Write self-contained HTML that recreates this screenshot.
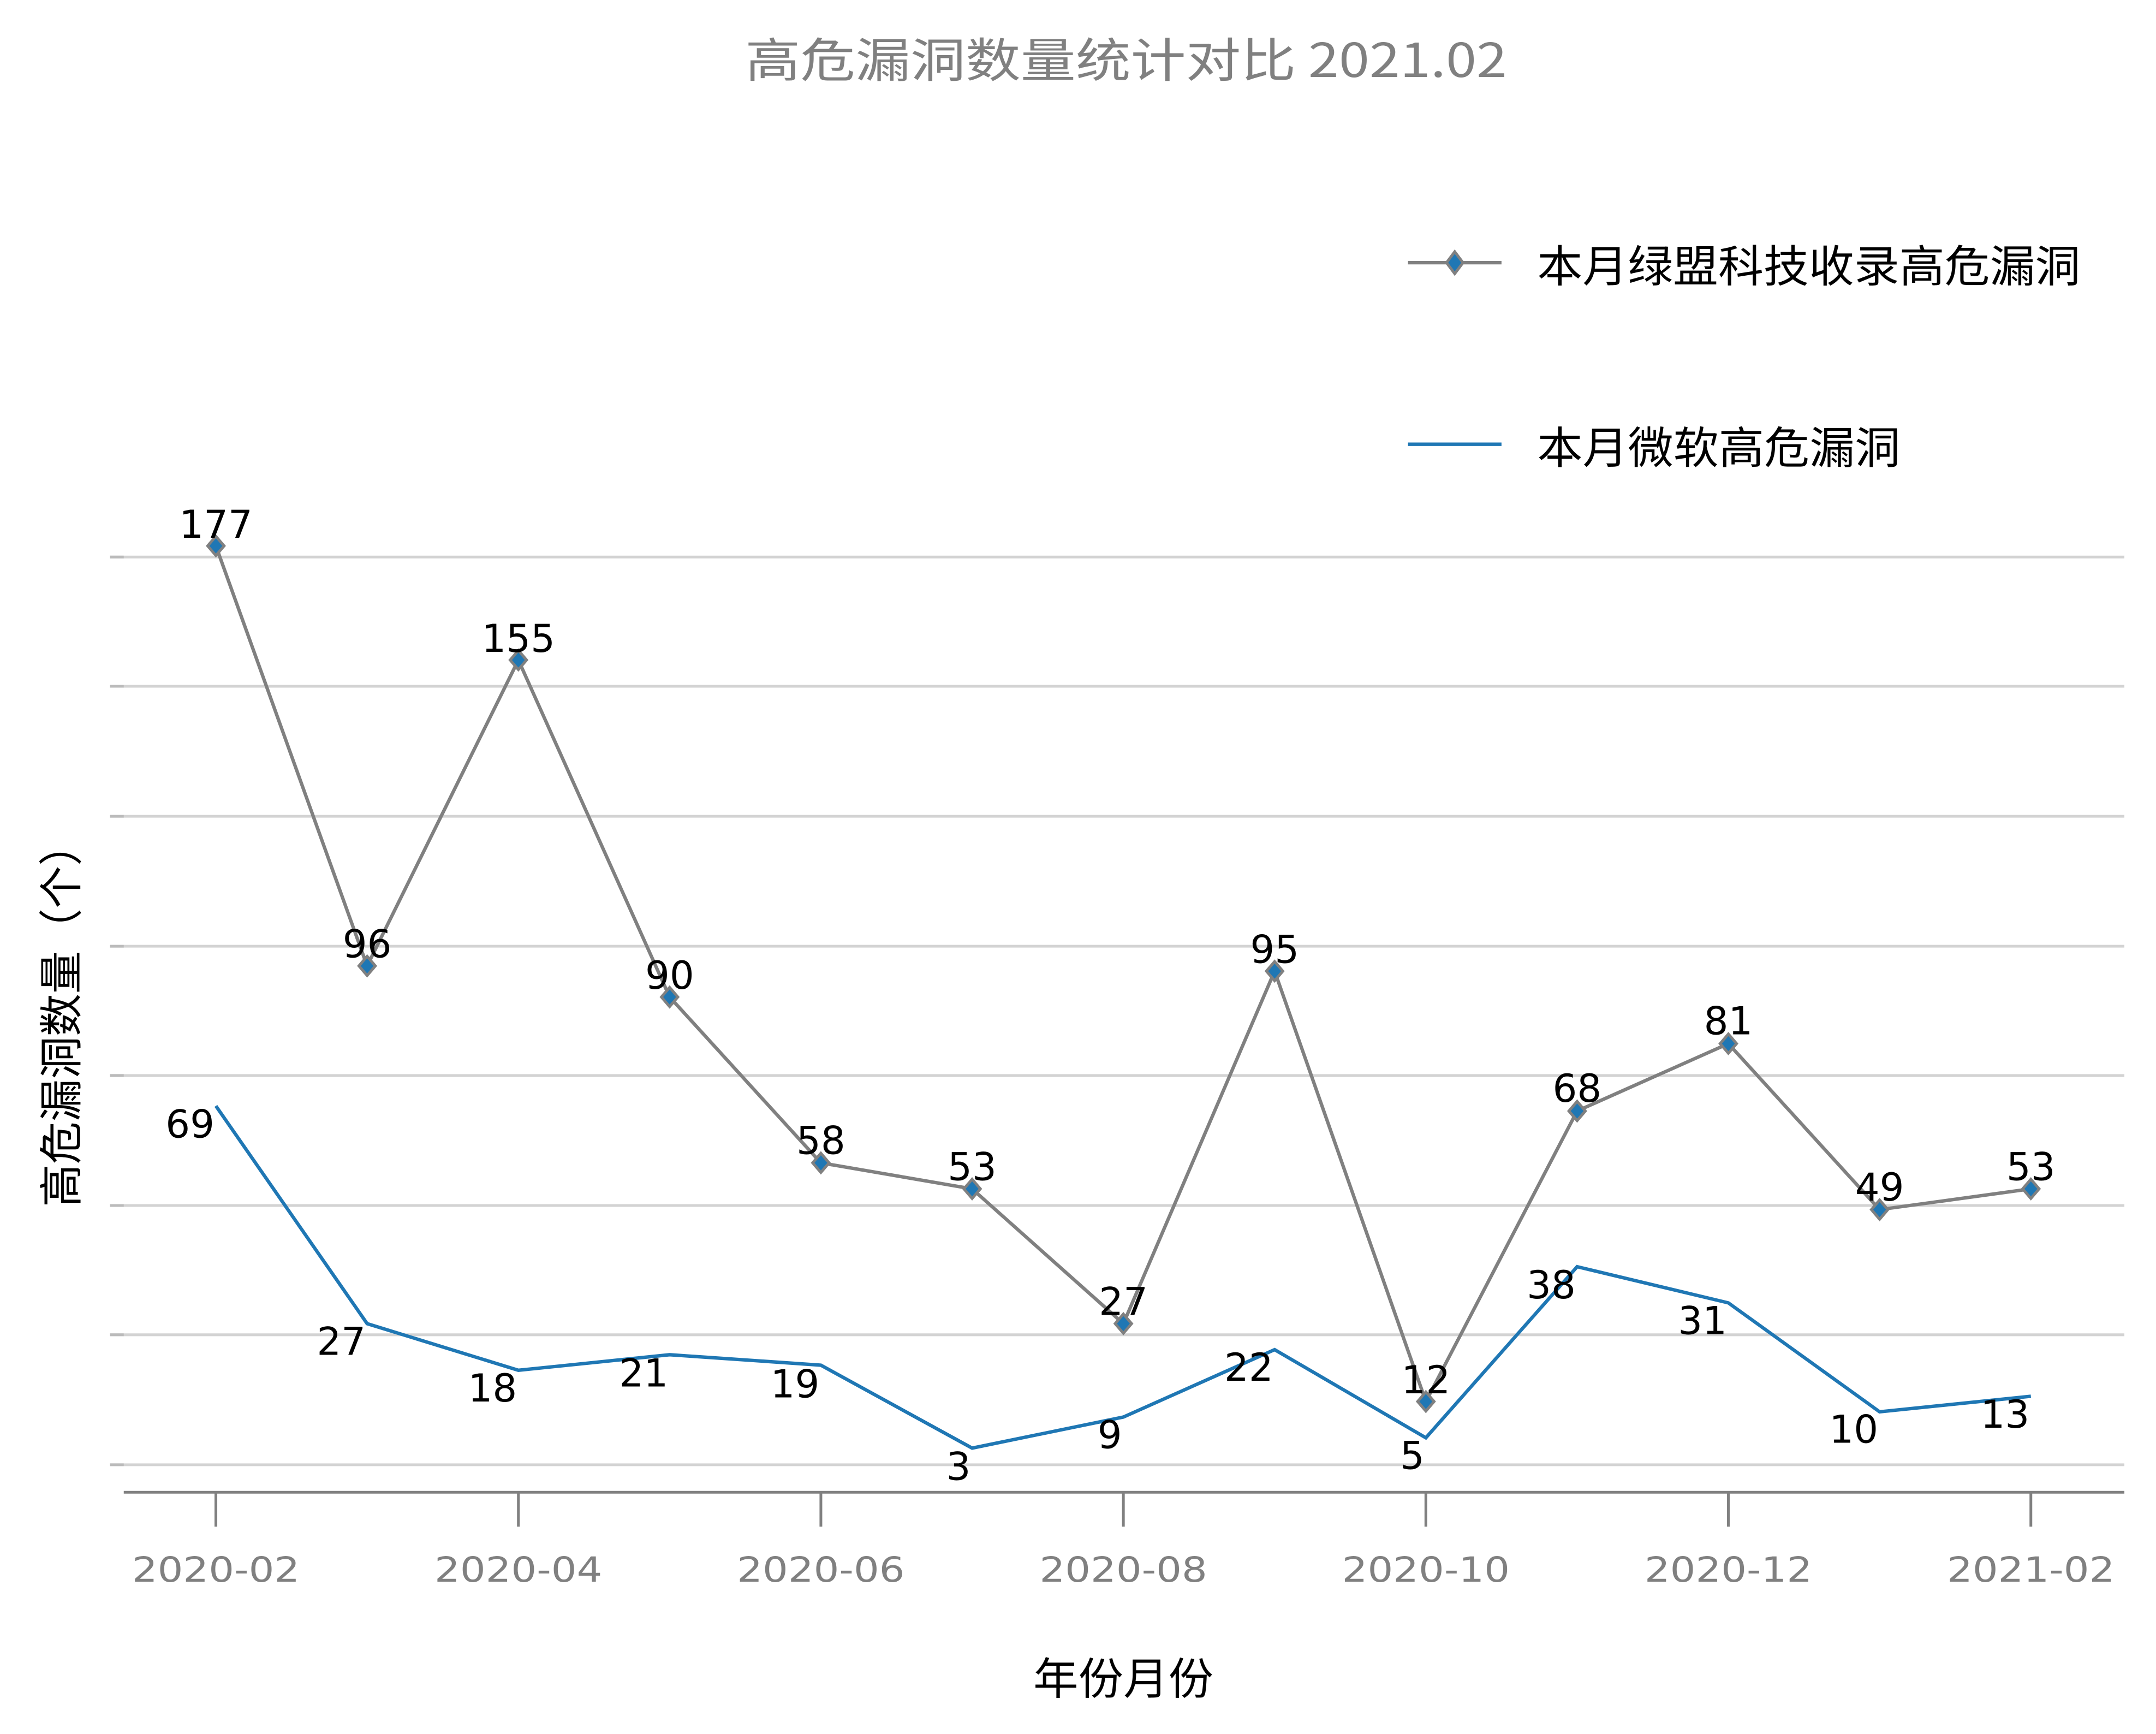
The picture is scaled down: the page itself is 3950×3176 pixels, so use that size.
<!DOCTYPE html>
<html><head><meta charset="utf-8"><style>html,body{margin:0;padding:0;background:#fff}svg{display:block}</style></head>
<body>
<svg width="3950" height="3176" viewBox="0 0 1568 1260.76" xmlns="http://www.w3.org/2000/svg">
<rect width="1568" height="1261" fill="#fff"/>
<text x="819" y="56" text-anchor="middle" font-family="'WenQuanYi Zen Hei','Noto Sans CJK SC',sans-serif" font-size="34" fill="#808080" textLength="554" lengthAdjust="spacingAndGlyphs">高危漏洞数量统计对比 2021.02</text>
<g stroke="#d3d3d3" stroke-width="2">
<line x1="80" x2="1545" y1="405" y2="405"/><line x1="80" x2="1545" y1="499" y2="499"/>
<line x1="80" x2="1545" y1="593.5" y2="593.5"/><line x1="80" x2="1545" y1="688" y2="688"/>
<line x1="80" x2="1545" y1="782" y2="782"/><line x1="80" x2="1545" y1="876.5" y2="876.5"/>
<line x1="80" x2="1545" y1="970.5" y2="970.5"/><line x1="80" x2="1545" y1="1065" y2="1065"/>
</g>
<g stroke="#bbb" stroke-width="2">
<line x1="80" x2="90" y1="405" y2="405"/><line x1="80" x2="90" y1="499" y2="499"/><line x1="80" x2="90" y1="593.5" y2="593.5"/><line x1="80" x2="90" y1="688" y2="688"/><line x1="80" x2="90" y1="782" y2="782"/><line x1="80" x2="90" y1="876.5" y2="876.5"/><line x1="80" x2="90" y1="970.5" y2="970.5"/><line x1="80" x2="90" y1="1065" y2="1065"/>
</g>
<line x1="90" x2="1545" y1="1085" y2="1085" stroke="#808080" stroke-width="2"/>
<g stroke="#808080" stroke-width="2">
<line x1="157" x2="157" y1="1085" y2="1110"/><line x1="377" x2="377" y1="1085" y2="1110"/><line x1="597" x2="597" y1="1085" y2="1110"/><line x1="817" x2="817" y1="1085" y2="1110"/><line x1="1037" x2="1037" y1="1085" y2="1110"/><line x1="1257" x2="1257" y1="1085" y2="1110"/><line x1="1477" x2="1477" y1="1085" y2="1110"/>
</g>
<g font-family="'DejaVu Sans',sans-serif" font-size="25" fill="#808080" text-anchor="middle">
<text x="157" y="1150" textLength="122" lengthAdjust="spacingAndGlyphs">2020-02</text><text x="377" y="1150" textLength="122" lengthAdjust="spacingAndGlyphs">2020-04</text><text x="597" y="1150" textLength="122" lengthAdjust="spacingAndGlyphs">2020-06</text><text x="817" y="1150" textLength="122" lengthAdjust="spacingAndGlyphs">2020-08</text><text x="1037" y="1150" textLength="122" lengthAdjust="spacingAndGlyphs">2020-10</text><text x="1257" y="1150" textLength="122" lengthAdjust="spacingAndGlyphs">2020-12</text><text x="1477" y="1150" textLength="122" lengthAdjust="spacingAndGlyphs">2021-02</text>
</g>
<text x="817" y="1232" text-anchor="middle" font-family="'Noto Sans CJK SC',sans-serif" font-size="32" fill="#000" textLength="131" lengthAdjust="spacingAndGlyphs">年份月份</text>
<text transform="translate(56,738) rotate(-90)" text-anchor="middle" font-family="'Noto Sans CJK SC',sans-serif" font-size="32" fill="#000" textLength="279" lengthAdjust="spacingAndGlyphs">高危漏洞数量（个）</text>
<polyline fill="none" stroke="#1f77b4" stroke-width="2.5" points="157,804.1 267,962.4 377,996.3 487,985 597,992.6 707,1052.9 817,1030.3 927,981.3 1037,1045.4 1147,921 1257,947.3 1367,1026.5 1477,1015.2"/>
<polyline fill="none" stroke="#808080" stroke-width="2.5" points="157,396.9 267,702.3 377,479.9 487,724.9 597,845.5 707,864.4 817,962.4 927,706.1 1037,1019 1147,807.8 1257,758.8 1367,879.5 1477,864.4"/>
<g fill="#1f77b4" stroke="#808080" stroke-width="2">
<path d="M157,389.9l6,7l-6,7l-6,-7z"/><path d="M267,695.3l6,7l-6,7l-6,-7z"/><path d="M377,472.9l6,7l-6,7l-6,-7z"/><path d="M487,717.9l6,7l-6,7l-6,-7z"/><path d="M597,838.5l6,7l-6,7l-6,-7z"/><path d="M707,857.4l6,7l-6,7l-6,-7z"/><path d="M817,955.4l6,7l-6,7l-6,-7z"/><path d="M927,699.1l6,7l-6,7l-6,-7z"/><path d="M1037,1012l6,7l-6,7l-6,-7z"/><path d="M1147,800.8l6,7l-6,7l-6,-7z"/><path d="M1257,751.8l6,7l-6,7l-6,-7z"/><path d="M1367,872.5l6,7l-6,7l-6,-7z"/><path d="M1477,857.4l6,7l-6,7l-6,-7z"/>
</g>
<g font-family="'DejaVu Sans',sans-serif" font-size="28" fill="#000" text-anchor="middle">
<text x="157" y="391">177</text><text x="267" y="696">96</text><text x="377" y="474">155</text><text x="487" y="719">90</text><text x="597" y="839">58</text><text x="707" y="858">53</text><text x="817" y="956">27</text><text x="927" y="700">95</text><text x="1037" y="1013">12</text><text x="1147" y="801">68</text><text x="1257" y="752">81</text><text x="1367" y="873">49</text><text x="1477" y="858">53</text>
</g>
<g font-family="'DejaVu Sans',sans-serif" font-size="28" fill="#000" text-anchor="end">
<text x="156" y="827">69</text><text x="266" y="985">27</text><text x="376" y="1019">18</text><text x="486" y="1008">21</text><text x="596" y="1016">19</text><text x="706" y="1076">3</text><text x="816" y="1053">9</text><text x="926" y="1004">22</text><text x="1036" y="1068">5</text><text x="1146" y="944">38</text><text x="1256" y="970">31</text><text x="1366" y="1049">10</text><text x="1476" y="1038">13</text>
</g>
<line x1="1024" x2="1092" y1="191" y2="191" stroke="#808080" stroke-width="2.5"/>
<path d="M1058,183l6,8l-6,8l-6,-8z" fill="#1f77b4" stroke="#808080" stroke-width="2"/>
<text x="1118" y="205" font-family="'Noto Sans CJK SC',sans-serif" font-size="32" fill="#000" textLength="395" lengthAdjust="spacingAndGlyphs">本月绿盟科技收录高危漏洞</text>
<line x1="1024" x2="1092" y1="323" y2="323" stroke="#1f77b4" stroke-width="2.5"/>
<text x="1118" y="337" font-family="'Noto Sans CJK SC',sans-serif" font-size="32" fill="#000" textLength="264" lengthAdjust="spacingAndGlyphs">本月微软高危漏洞</text>
</svg>
</body></html>
